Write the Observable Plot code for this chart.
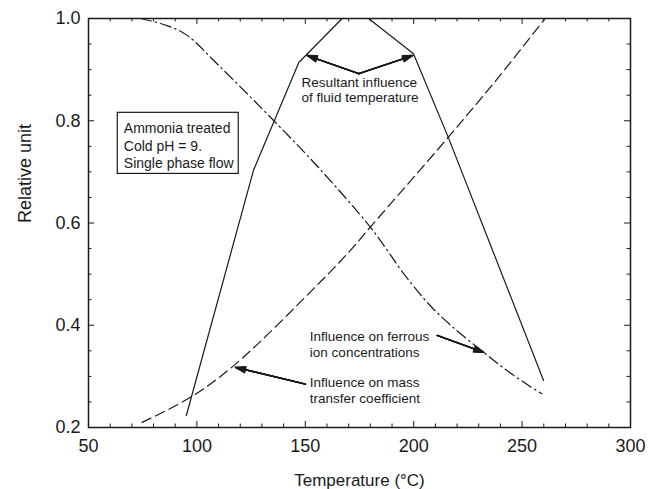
<!DOCTYPE html>
<html><head><meta charset="utf-8">
<script src="https://cdn.jsdelivr.net/npm/d3@7"></script>
<script src="https://cdn.jsdelivr.net/npm/@observablehq/plot@0.6"></script>
<style>html,body{margin:0;padding:0;background:#fff}#chart{width:648px;height:489px}</style>
</head><body><div id="chart"></div>
<script>
const FONT = '"Liberation Sans", Arial, Helvetica, sans-serif';
const INK = "#1a1a1a";

// Resultant influence of fluid temperature (solid)
const resultantT = [95.1, 126.1, 147, 167, 179.2, 199.9, 216, 259.9];
const resultantV = [0.223, 0.703, 0.914, 1.0, 1.0, 0.931, 0.767, 0.292];
// Influence on ferrous ion concentrations (dash-dot)
const ferrousT = [74, 86.3, 95.5, 109.4, 135.5, 156, 180, 187.6, 194.5, 206.8, 217.6, 231.4, 242.2, 254.5, 259.1];
const ferrousV = [1.0, 0.986, 0.967, 0.911, 0.80, 0.709, 0.592, 0.548, 0.506, 0.442, 0.398, 0.350, 0.314, 0.278, 0.266];
// Influence on mass transfer coefficient (dashed)
const massT = [74.7, 97, 117, 157, 170.7, 180, 216, 239.1, 260.6];
const massV = [0.21, 0.259, 0.321, 0.485, 0.546, 0.592, 0.768, 0.885, 1.0];

// Axis ticks
const xTicks = [50, 100, 150, 200, 250, 300];
const yTicks = [0.2, 0.4, 0.6, 0.8, 1.0];
const xMinor = [60, 70, 80, 90, 110, 120, 130, 140, 160, 170, 180, 190, 210, 220, 230, 240, 260, 270, 280, 290];
const yMinor = [0.25, 0.3, 0.35, 0.45, 0.5, 0.55, 0.65, 0.7, 0.75, 0.85, 0.9, 0.95];

// Annotation texts and anchors (data coordinates)
const noteText = ["Ammonia treated\nCold pH = 9.\nSingle phase flow", "Resultant influence\nof fluid temperature", "Influence on ferrous\nion concentrations", "Influence on mass\ntransfer coefficient"];
const noteX = [66.3, 148.2, 152.1, 152.1];
const noteY = [0.707, 0.836, 0.3386, 0.2472];
const noteLH = [1.264, 1.15, 1.15, 1.185];
const noteSize = [14, 13.6, 13.5, 13.5];
const boxX = [63.5, 119.3];
const boxY = [0.696, 0.8155];

// Arrows: from -> to
const arrowX1 = [174.7, 174.7, 210.8, 150.1];
const arrowY1 = [0.892, 0.892, 0.380, 0.285];
const arrowX2 = [150.9, 199.5, 232.3, 117.8];
const arrowY2 = [0.9276, 0.9276, 0.347, 0.3176];

const resultant = resultantT.map((t, i) => ({t, v: resultantV[i]}));
const ferrous = ferrousT.map((t, i) => ({t, v: ferrousV[i]}));
const mass = massT.map((t, i) => ({t, v: massV[i]}));
const arrows = arrowX1.map((x, i) => ({x1: x, y1: arrowY1[i], x2: arrowX2[i], y2: arrowY2[i]}));

const noteMarks = noteText.map((txt, i) => Plot.text([txt], {
  x: noteX[i], y: noteY[i], text: d => d, textAnchor: "start", lineAnchor: "bottom",
  lineHeight: noteLH[i], fontSize: noteSize[i], fill: INK
}));

const headMarks = [36, 28, 20, 12, 4].map(a => Plot.arrow(arrows, {
  x1: "x1", y1: "y1", x2: "x2", y2: "y2", stroke: INK, strokeWidth: 1.3, headLength: 12, headAngle: a
}));

const chart = Plot.plot({
  width: 648, height: 489,
  marginLeft: 88, marginRight: 18, marginTop: 18, marginBottom: 62,
  style: {fontFamily: FONT, fontSize: "18px", background: "#fff", color: INK},
  x: {domain: [50, 300], label: null},
  y: {domain: [0.2, 1.0], label: null},
  marks: [
    Plot.rect([0], {x1: boxX[0], x2: boxX[1], y1: boxY[0], y2: boxY[1], fill: "none", stroke: INK, strokeWidth: 1.2}),
    ...noteMarks,
    Plot.line(resultant, {x: "t", y: "v", stroke: INK, strokeWidth: 1.2}),
    Plot.line(ferrous, {x: "t", y: "v", stroke: INK, strokeWidth: 1.2, curve: "catmull-rom", strokeDasharray: "11,4,1.5,4"}),
    Plot.line(mass, {x: "t", y: "v", stroke: INK, strokeWidth: 1.2, curve: "catmull-rom", strokeDasharray: "10,5"}),
    ...headMarks,
    // inward ticks, all four sides
    Plot.ruleX(xTicks, {x: d => d, y1: 0.2, y2: 0.2, insetBottom: 6, stroke: INK}),
    Plot.ruleX(xMinor, {x: d => d, y1: 0.2, y2: 0.2, insetBottom: 3.5, stroke: INK}),
    Plot.ruleX(xTicks, {x: d => d, y1: 1.0, y2: 1.0, insetBottom: -6, stroke: INK}),
    Plot.ruleX(xMinor, {x: d => d, y1: 1.0, y2: 1.0, insetBottom: -3.5, stroke: INK}),
    Plot.ruleY(yTicks, {y: d => d, x1: 50, x2: 50, insetRight: -6, stroke: INK}),
    Plot.ruleY(yMinor, {y: d => d, x1: 50, x2: 50, insetRight: -3.5, stroke: INK}),
    Plot.ruleY(yTicks, {y: d => d, x1: 300, x2: 300, insetLeft: -6, stroke: INK}),
    Plot.ruleY(yMinor, {y: d => d, x1: 300, x2: 300, insetLeft: -3.5, stroke: INK}),
    Plot.frame({stroke: INK, strokeWidth: 1.5}),
    Plot.axisX(xTicks, {tickSize: 0, tickPadding: 12, fontSize: 18, fill: INK, tickFormat: d => String(d), label: null}),
    Plot.axisY(yTicks, {tickSize: 0, tickPadding: 8, fontSize: 18, fill: INK, tickFormat: d3.format(".1f"), label: null}),
    Plot.text(["Temperature (°C)"], {frameAnchor: "bottom", lineAnchor: "bottom", dy: 58, fontSize: 17, fill: INK, text: d => d}),
    Plot.text(["Relative unit"], {frameAnchor: "left", dx: -63, rotate: -90, fontSize: 18, fill: INK, text: d => d, style: "letter-spacing:1px"})
  ]
});
document.getElementById("chart").appendChild(chart);
</script>
</body></html>
